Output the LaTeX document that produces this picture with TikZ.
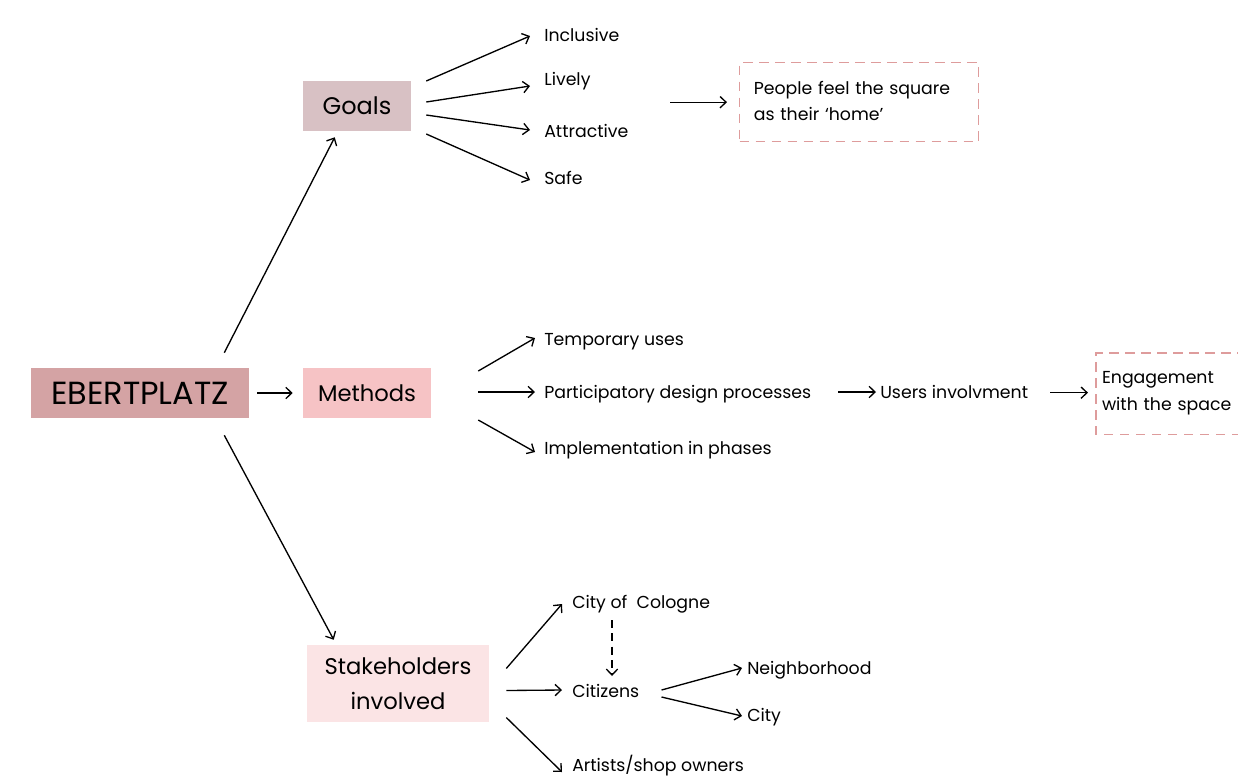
\documentclass[tikz,border=0pt]{standalone}
\usepackage{fontspec}
\setmainfont{Poppins}
\usetikzlibrary{arrows.meta,calc}
\definecolor{cEbert}{HTML}{D4A3A4}
\definecolor{cMeth}{HTML}{F6C3C5}
\definecolor{cGoal}{HTML}{D8C1C4}
\definecolor{cStake}{HTML}{FBE4E5}
\definecolor{cDash}{HTML}{DE9C9C}
\tikzset{
  box/.style={fill=#1, inner sep=0pt, align=center},
  lbl/.style={anchor=base west, inner sep=0pt, font=\fontsize{13}{15}\selectfont},
  arr/.style={line width=1pt, -{Straight Barb[length=4.5pt,width=8.5pt,line width=1pt]}},
  dline/.style={draw=cDash, line width=1pt, dash pattern=on 7pt off 5pt},
  dbox/.style={dline, inner xsep=10.5pt, inner ysep=0pt, align=left, anchor=north west, font=\fontsize{13}{20}\selectfont}
}
\begin{document}
\begin{tikzpicture}[x=0.75pt,y=-0.75pt]
\useasboundingbox (0,0) rectangle (1238,776);
\fill[white] (0,0) rectangle (1238,776);
% main boxes
\node[box=cEbert, minimum width=218*0.75pt, minimum height=50*0.75pt, font=\fontsize{24}{26}\selectfont] (ebert) at (140,393) {EBERTPLATZ};
\node[box=cGoal, minimum width=108*0.75pt, minimum height=50*0.75pt, font=\fontsize{18}{20}\selectfont] (goals) at (357,106) {Goals};
\node[box=cMeth, minimum width=128*0.75pt, minimum height=50*0.75pt, font=\fontsize{17}{20}\selectfont] (meth) at (367,393) {Methods};
\node[box=cStake, minimum width=182*0.75pt, minimum height=77*0.75pt, font=\fontsize{17}{26}\selectfont] (stake) at (398,683.5) {Stakeholders\\involved};
% goal labels
\node[lbl] (incl) at (544,41) {Inclusive};
\node[lbl] (live) at (544,85) {Lively};
\node[lbl] (attr) at (544,137) {Attractive};
\node[lbl] (safe) at (544,184) {Safe};
\node[dbox, minimum width=239*0.75pt, minimum height=79*0.75pt, text width=158pt] (home) at (739,62) {\\[-12pt]People feel the square\\as their ‘home’};
% methods labels
\node[lbl] (temp) at (544,345) {Temporary uses};
\node[lbl] (part) at (544,398) {Participatory design processes};
\node[lbl] (impl) at (544,454) {Implementation in phases};
\node[lbl] (users) at (880,398) {Users involvment};
\node[dbox, draw=none, inner xsep=4pt, minimum height=80*0.75pt, text width=152pt] (eng) at (1096,353) {\\[-12pt]Engagement\\with the space};
\draw[dline] (eng.north east) -- (eng.north west) -- (eng.south west) -- (eng.south east);
% stakeholder labels
\node[lbl] (col) at (572,608) {City of\ \ Cologne};
\node[lbl] (cit) at (572,697) {Citizens};
\node[lbl] (art) at (572,771) {Artists/shop owners};
\node[lbl] (nei) at (747,674) {Neighborhood};
\node[lbl] (city) at (747,721) {City};
% connectors from EBERTPLATZ
\draw[arr] ($(ebert.north east)+(-25,-15)$) -- ($(goals.south west)+(32,6)$);
\draw[arr] ($(ebert.east)+(8,0)$) -- ($(meth.west)+(-10,0)$);
\draw[arr] ($(ebert.south east)+(-25,17)$) -- ($(stake.north west)+(27,-5)$);
% goals
\draw[arr] ($(goals.east)+(15,-25)$) -- ($(incl.base west)+(-14,-5)$);
\draw[arr] ($(goals.east)+(15,-4)$) -- ($(live.base west)+(-14,1)$);
\draw[arr] ($(goals.east)+(15,9)$) -- ($(attr.base west)+(-14,-7)$);
\draw[arr] ($(goals.east)+(15,28)$) -- ($(safe.base west)+(-14,-4)$);
\draw[arr] ($(home.west)+(-69,0)$) -- ($(home.west)+(-12,0)$);
% methods
\draw[arr] ($(meth.east)+(47,-22)$) -- ($(temp.base west)+(-9,-7)$);
\draw[arr] ($(meth.east)+(47,-1)$) -- ($(part.base west)+(-9,-6)$);
\draw[arr] ($(meth.east)+(47,27)$) -- ($(impl.base west)+(-9,-2)$);
\draw[arr] ($(users.base west)+(-42,-6)$) -- ($(users.base west)+(-4,-6)$);
\draw[arr] ($(eng.west)+(-46,-1)$) -- ($(eng.west)+(-8,-1)$);
% stakeholders
\draw[arr] ($(stake.east)+(17,-15)$) -- ($(col.base west)+(-10,-4)$);
\draw[arr] ($(stake.east)+(17,7)$) -- ($(cit.base west)+(-10,-7)$);
\draw[arr] ($(stake.east)+(17,34)$) -- ($(art.base west)+(-10,1)$);
\draw[arr, dash pattern=on 6pt off 4pt] ($(col.base west)+(40,12)$) -- ($(cit.base west)+(40,-21)$);
\draw[arr] ($(cit.base east)+(22,-7)$) -- ($(nei.base west)+(-5,-6)$);
\draw[arr] ($(cit.base east)+(22,0)$) -- ($(city.base west)+(-5,-5)$);
\end{tikzpicture}
\end{document}
